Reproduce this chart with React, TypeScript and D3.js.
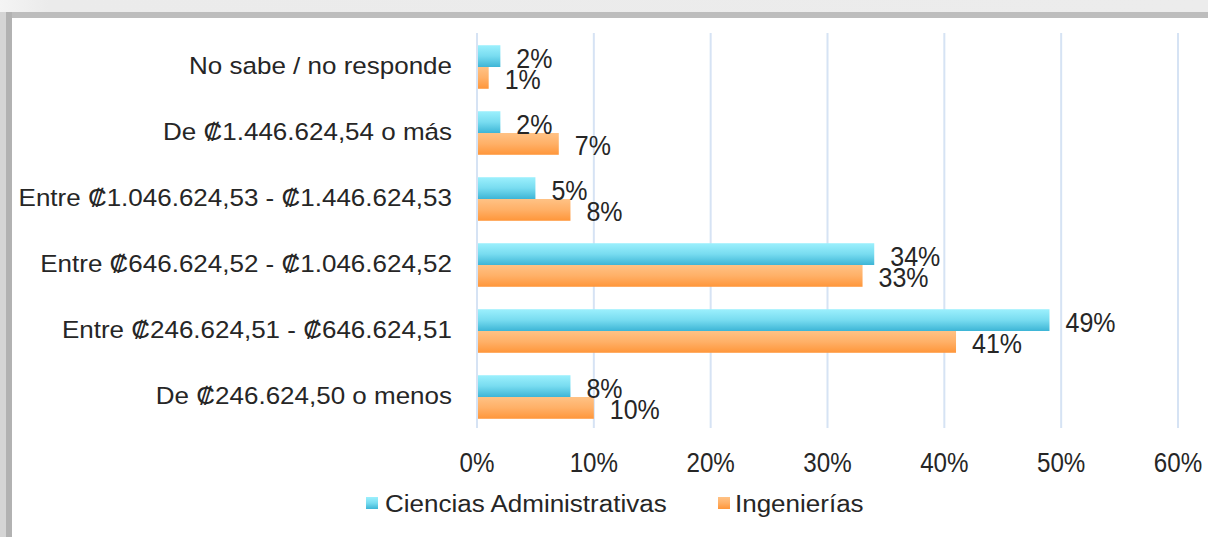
import React from "react";
import * as d3 from "d3";

const categories = [
  "No sabe / no responde",
  "De ₡1.446.624,54 o más",
  "Entre ₡1.046.624,53 - ₡1.446.624,53",
  "Entre ₡646.624,52 - ₡1.046.624,52",
  "Entre ₡246.624,51 - ₡646.624,51",
  "De ₡246.624,50 o menos",
];
const seriesNames = ["Ciencias Administrativas", "Ingenierías"];
const ciencias = [2, 2, 5, 34, 49, 8];
const ingenierias = [1, 7, 8, 33, 41, 10];
const xTicks = [0, 10, 20, 30, 40, 50, 60];

const W = 1208;
const H = 537;
const TEXT = "#262626";
const FONT = "'Liberation Sans', Arial, sans-serif";

export default function App() {
  const x = d3.scaleLinear().domain([0, 60]).range([477, 1178]);
  const y = d3
    .scaleBand<string>()
    .domain(categories)
    .range([34, 430])
    .paddingInner(0.34)
    .paddingOuter(0.17);
  const bw = y.bandwidth() / 2;
  const series = [
    { name: seriesNames[0], values: ciencias, grad: "gCyan", off: 0 },
    { name: seriesNames[1], values: ingenierias, grad: "gOrange", off: 1 },
  ];

  return (
    <svg
      width={W}
      height={H}
      style={{ position: "absolute", left: 0, top: 0, display: "block", background: "#fff" }}
      fontFamily={FONT}
    >
      <defs>
        <linearGradient id="gCyan" x1="0" y1="0" x2="0" y2="1">
          <stop offset="0" stopColor="#9cf0fd" />
          <stop offset="0.5" stopColor="#78dcf0" />
          <stop offset="1" stopColor="#3db5d6" />
        </linearGradient>
        <linearGradient id="gOrange" x1="0" y1="0" x2="0" y2="1">
          <stop offset="0" stopColor="#ffc285" />
          <stop offset="0.5" stopColor="#ffb067" />
          <stop offset="1" stopColor="#ff963a" />
        </linearGradient>
        <linearGradient id="gTop" x1="0" y1="0" x2="1" y2="0">
          <stop offset="0" stopColor="#f4f4f4" />
          <stop offset="0.04" stopColor="#ebebeb" />
          <stop offset="1" stopColor="#ececec" />
        </linearGradient>
      </defs>
      <rect x={0} y={0} width={W} height={H} fill="#fff" />
      {/* frame shadow */}
      <rect x={0} y={0} width={W} height={12} fill="url(#gTop)" />
      <rect x={6} y={12} width={W - 6} height={6} fill="#bdbdbd" />
      <rect x={0} y={12} width={6} height={H - 12} fill="#d5d5d5" />
      <rect x={6} y={12} width={6} height={H - 12} fill="#b2b2b2" />

      {/* grid */}
      {xTicks.map((t) => (
        <line
          key={"g" + t}
          x1={x(t)}
          x2={x(t)}
          y1={33}
          y2={428}
          stroke="#d6e3f4"
          strokeWidth={2}
        />
      ))}

      {/* bars */}
      {series.map((s) =>
        categories.map((c, i) => {
          const y0 = (y(c) as number) + s.off * bw;
          return (
            <rect
              key={s.name + c}
              x={x(0) + 1}
              y={y0}
              width={x(s.values[i]) - x(0) - 1}
              height={bw}
              fill={`url(#${s.grad})`}
            />
          );
        })
      )}

      {/* data labels */}
      {series.map((s) =>
        categories.map((c, i) => {
          const cy = (y(c) as number) + s.off * bw + bw / 2 + 1.5;
          return (
            <text
              key={"l" + s.name + c}
              transform={`translate(${x(s.values[i]) + 16},${cy + 10}) scale(1,1.13)`}
              fontSize={25}
              fill={TEXT}
            >
              {s.values[i] + "%"}
            </text>
          );
        })
      )}

      {/* category labels */}
      {categories.map((c) => (
        <text
          key={"c" + c}
          transform={`translate(452,${(y(c) as number) + bw + 6.5}) scale(1,0.94)`}
          textAnchor="end"
          fontSize={26}
          fill={TEXT}
        >
          {c}
        </text>
      ))}

      {/* x tick labels */}
      {xTicks.map((t) => (
        <text
          key={"t" + t}
          transform={`translate(${x(t)},471.5) scale(1,1.15)`}
          textAnchor="middle"
          fontSize={24.2}
          fill={TEXT}
        >
          {t + "%"}
        </text>
      ))}

      {/* legend */}
      {[
        { name: seriesNames[0], grad: "gCyan", sx: 366, tx: 385 },
        { name: seriesNames[1], grad: "gOrange", sx: 718, tx: 735 },
      ].map((l) => (
        <g key={"lg" + l.name}>
          <rect x={l.sx} y={497} width={12} height={12} fill={`url(#${l.grad})`} />
          <text
            transform={`translate(${l.tx},512) scale(1,0.92)`}
            fontSize={26}
            fill={TEXT}
          >
            {l.name}
          </text>
        </g>
      ))}
    </svg>
  );
}
